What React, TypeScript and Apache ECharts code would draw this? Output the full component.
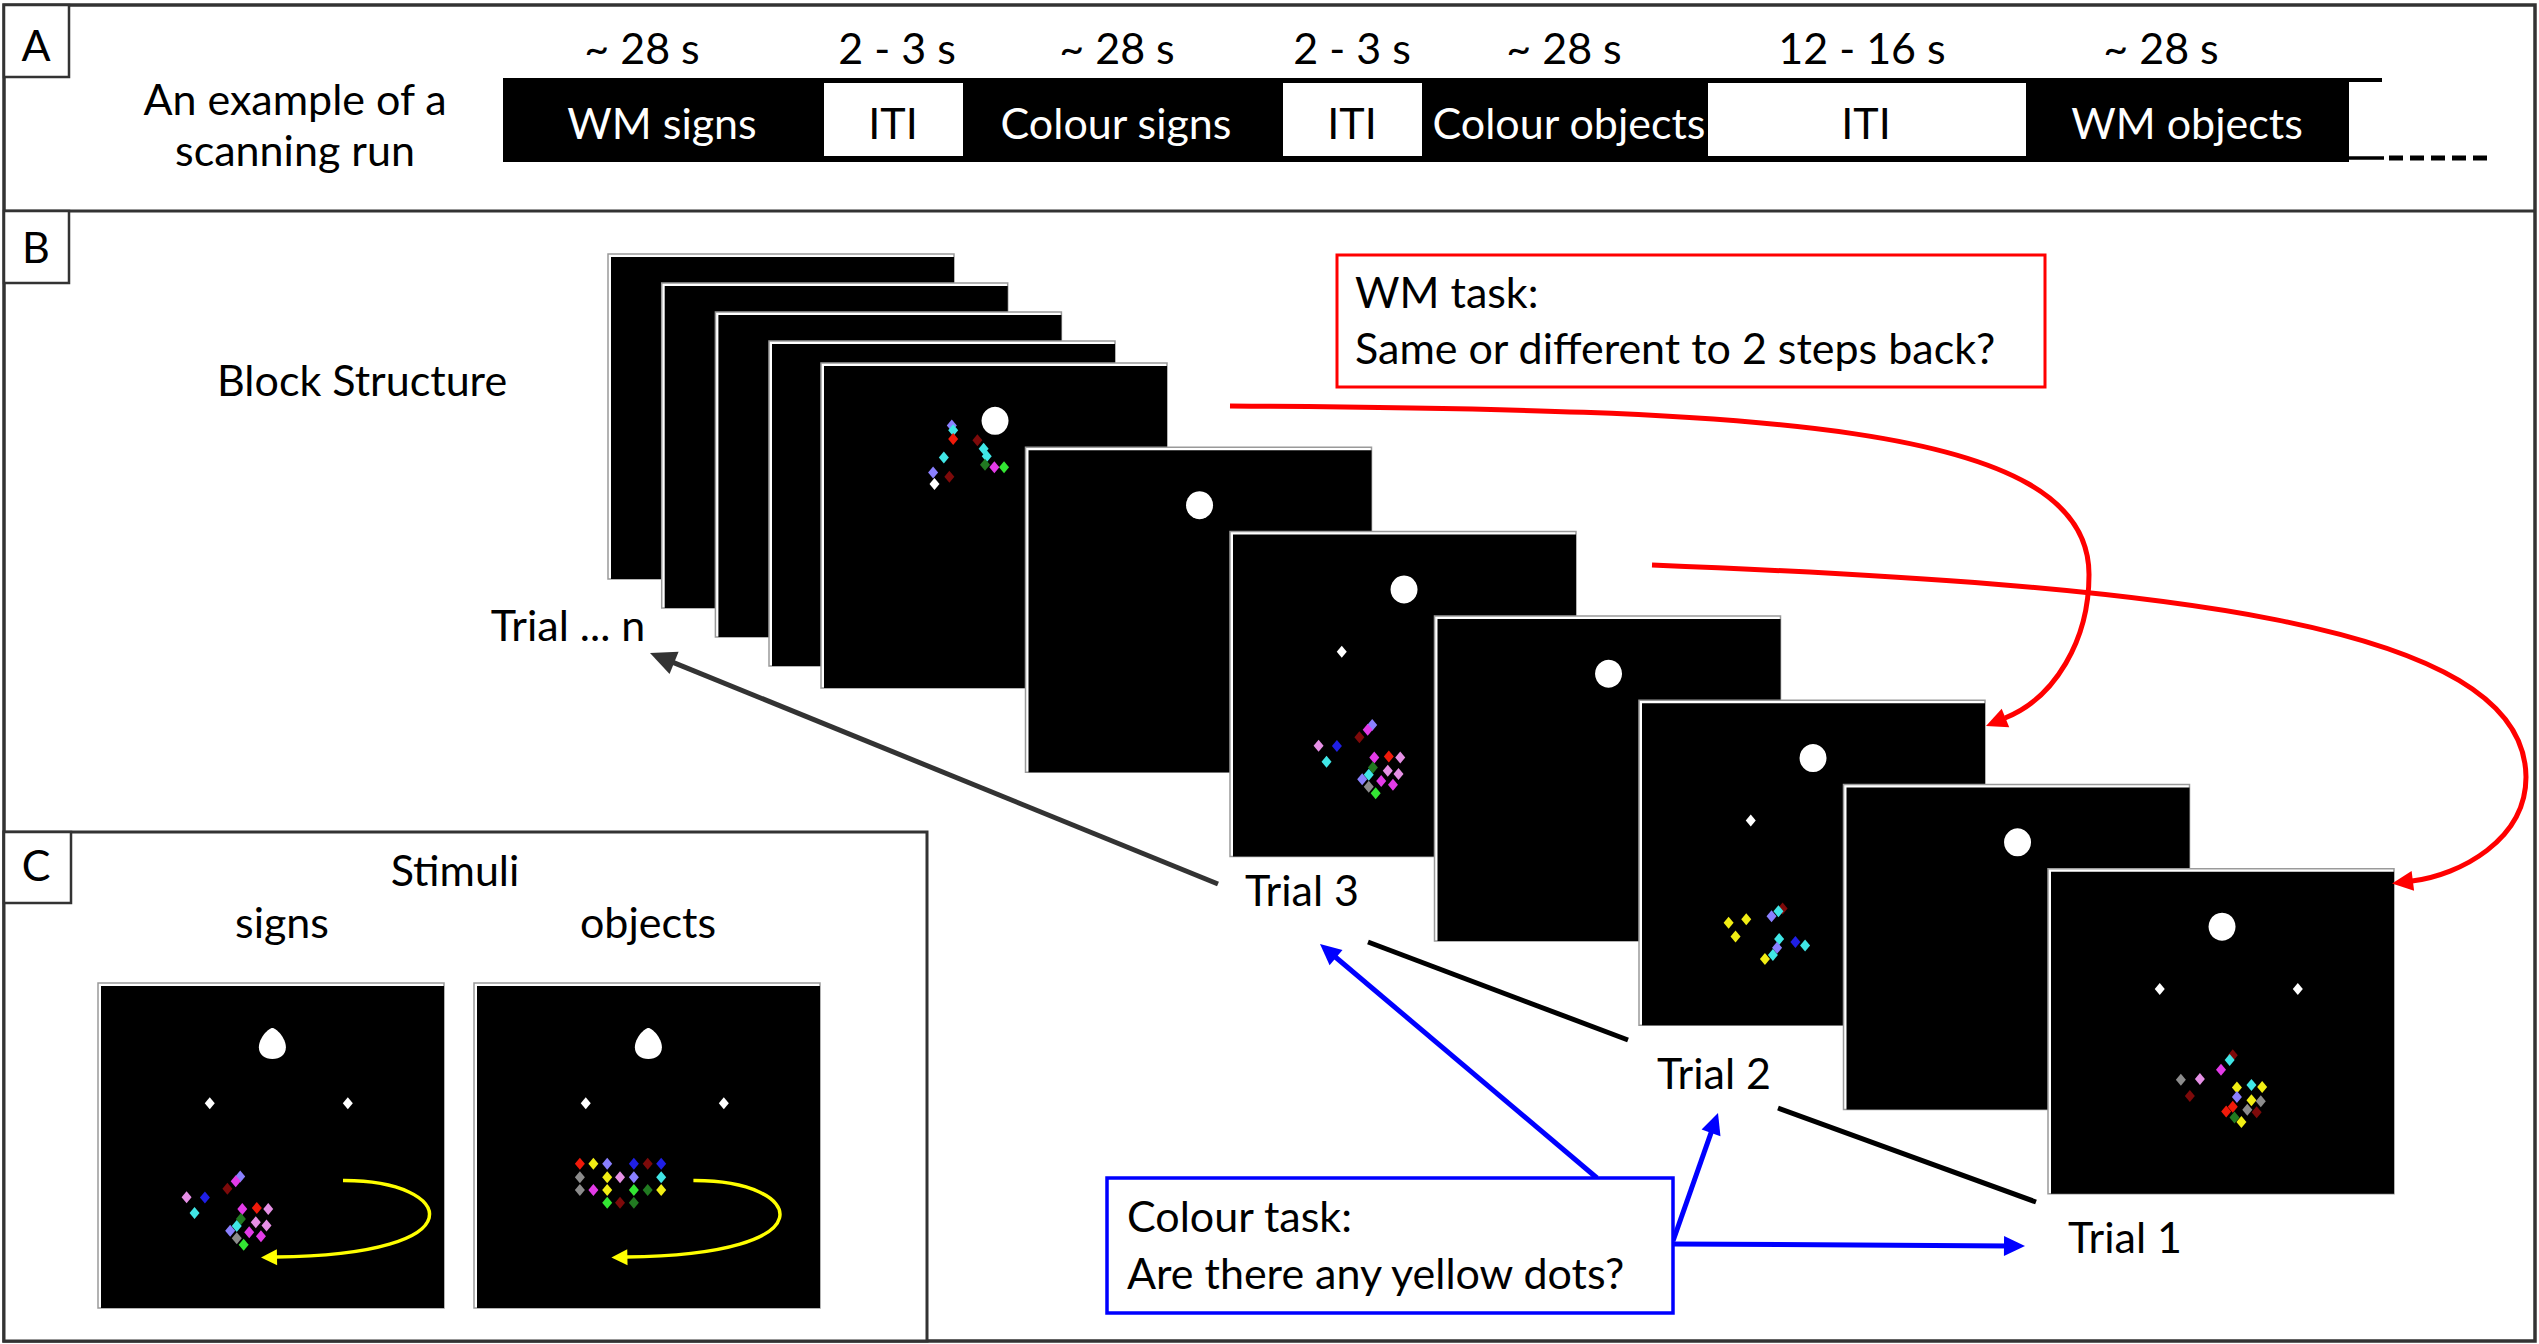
import React, { useEffect, useRef } from "react";
import * as echarts from "echarts";

const W = 2539;
const H = 1344;
const FONT = "Lato, 'Noto Sans', sans-serif";
const FS = 43;

const PALETTE: Record<string, string> = {
  lav: "#8a80ff",
  mag: "#e33be8",
  pink: "#e690e6",
  dred: "#7d0a0a",
  red: "#f01a0a",
  blue: "#1f1fe6",
  cyan: "#40e6e6",
  dgreen: "#217a21",
  green: "#33e633",
  grey: "#8c8c8c",
  yellow: "#f2ee14",
  white: "#ffffff",
};

// ---------- data ----------
const DURATIONS = ["~ 28 s", "2 - 3 s", "~ 28 s", "2 - 3 s", "~ 28 s", "12 - 16 s", "~ 28 s"];
const BLOCKS = ["WM signs", "ITI", "Colour signs", "ITI", "Colour objects", "ITI", "WM objects"];
const RUN_TITLE = ["An example of a", "scanning run"];
const TRIAL_LABELS = ["Trial ... n", "Trial 3", "Trial 2", "Trial 1"];
const WM_TASK = ["WM task:", "Same or different to 2 steps back?"];
const COLOUR_TASK = ["Colour task:", "Are there any yellow dots?"];
const STIM_TITLES = ["Stimuli", "signs", "objects"];

// normalised positions inside a screen [u, v, colour]
const FIX_CIRCLE: [number, number] = [0.503, 0.178];
const LEFT_DIAMOND: [number, number] = [0.323, 0.37];
const RIGHT_DIAMOND: [number, number] = [0.722, 0.37];

const DOTS_BLOCK_START: [number, number, string][] = [
  [0.378, 0.192, "lav"], [0.382, 0.207, "cyan"], [0.382, 0.234, "red"], [0.452, 0.238, "dred"],
  [0.47, 0.264, "cyan"], [0.479, 0.287, "cyan"], [0.355, 0.291, "cyan"], [0.474, 0.313, "dgreen"],
  [0.501, 0.321, "mag"], [0.529, 0.321, "green"], [0.324, 0.337, "lav"], [0.371, 0.35, "dred"],
  [0.328, 0.372, "white"],
];
const DOTS_SIGNS: [number, number, string][] = [
  [0.411, 0.595, "lav"], [0.398, 0.61, "mag"], [0.374, 0.633, "dred"], [0.256, 0.659, "pink"],
  [0.309, 0.66, "blue"], [0.279, 0.708, "cyan"], [0.417, 0.695, "mag"], [0.459, 0.692, "red"],
  [0.492, 0.695, "pink"], [0.413, 0.726, "dgreen"], [0.401, 0.748, "cyan"], [0.382, 0.762, "lav"],
  [0.456, 0.736, "pink"], [0.487, 0.746, "pink"], [0.437, 0.767, "mag"], [0.471, 0.779, "mag"],
  [0.401, 0.785, "grey"], [0.421, 0.805, "green"],
];
const DOTS_TRIAL2: [number, number, string][] = [
  [0.415, 0.641, "dred"], [0.403, 0.649, "cyan"], [0.383, 0.665, "lav"], [0.259, 0.685, "yellow"],
  [0.31, 0.674, "yellow"], [0.279, 0.727, "yellow"], [0.405, 0.735, "cyan"], [0.452, 0.744, "blue"],
  [0.48, 0.755, "cyan"], [0.399, 0.762, "lav"], [0.387, 0.784, "cyan"], [0.364, 0.796, "yellow"],
];
const DOTS_TRIAL1: [number, number, string][] = [
  [0.534, 0.574, "dred"], [0.525, 0.588, "cyan"], [0.5, 0.618, "mag"], [0.384, 0.649, "grey"],
  [0.439, 0.647, "pink"], [0.41, 0.699, "dred"], [0.546, 0.673, "yellow"], [0.588, 0.665, "cyan"],
  [0.619, 0.671, "yellow"], [0.546, 0.702, "lav"], [0.588, 0.712, "yellow"], [0.615, 0.715, "grey"],
  [0.534, 0.732, "red"], [0.515, 0.747, "red"], [0.576, 0.741, "grey"], [0.603, 0.749, "dred"],
  [0.539, 0.765, "dgreen"], [0.559, 0.779, "yellow"],
];
const DOTS_OBJECTS: [number, number, string][] = [
  [0.306, 0.556, "red"], [0.345, 0.556, "yellow"], [0.385, 0.556, "lav"], [0.462, 0.556, "blue"],
  [0.502, 0.556, "dred"], [0.541, 0.556, "blue"],
  [0.306, 0.598, "grey"], [0.385, 0.598, "yellow"], [0.422, 0.598, "pink"], [0.462, 0.598, "lav"],
  [0.541, 0.598, "cyan"],
  [0.306, 0.637, "grey"], [0.345, 0.637, "mag"], [0.385, 0.637, "yellow"], [0.462, 0.637, "green"],
  [0.502, 0.637, "dgreen"], [0.541, 0.637, "yellow"],
  [0.385, 0.676, "green"], [0.422, 0.676, "dred"], [0.462, 0.676, "dgreen"],
];

// ---------- layout ----------
const CARD_W = 346;
const CARD_H = 325;
const BACK_CARDS = [[608, 254], [661.7, 283], [715.4, 312], [769, 341]];
const FRONT_ORIGIN = [821, 363];
const FRONT_STEP = [204.5, 84.3];
const FRONT_KIND = ["blockStart", "blank", "trial3", "blank", "trial2", "blank", "trial1"];
const C_CARDS = [[98, 983], [474, 983]];

const DURATION_X = [642, 897, 1117, 1352, 1564, 1862, 2161];
const BLOCK_X = [662, 893, 1116, 1352, 1569, 1866, 2187];
const ITI_BOXES = [[824, 139], [1283, 139], [1708, 318]];

function txt(text: string, x: number, baseline: number, o: any = {}) {
  const size = o.size || FS;
  return {
    type: "text",
    x,
    y: baseline - 0.36 * size,
    silent: true,
    style: {
      text,
      x: 0,
      y: 0,
      font: `${size}px ${FONT}`,
      fill: o.fill || "#000",
      align: o.align || "center",
      verticalAlign: "middle",
      textAlign: o.align || "center",
      textVerticalAlign: "middle",
    },
  };
}

function line(x1: number, y1: number, x2: number, y2: number, stroke: string, lw: number, extra: any = {}) {
  return { type: "line", silent: true, shape: { x1, y1, x2, y2 }, style: { stroke, lineWidth: lw, ...extra } };
}

function head(tx: number, ty: number, fx: number, fy: number, len: number, half: number, color: string) {
  const dx = tx - fx, dy = ty - fy;
  const d = Math.hypot(dx, dy);
  const ux = dx / d, uy = dy / d;
  const bx = tx - ux * len, by = ty - uy * len;
  return {
    type: "polygon",
    silent: true,
    shape: { points: [[tx, ty], [bx - uy * half, by + ux * half], [bx + uy * half, by - ux * half]] },
    style: { fill: color },
  };
}

function arrow(x1: number, y1: number, x2: number, y2: number, color: string, lw: number, len: number, half: number) {
  const dx = x2 - x1, dy = y2 - y1;
  const d = Math.hypot(dx, dy);
  const ex = x2 - (dx / d) * len * 0.7, ey = y2 - (dy / d) * len * 0.7;
  return [line(x1, y1, ex, ey, color, lw), head(x2, y2, x1, y1, len, half, color)];
}

function bez(p: number[], color: string, lw: number) {
  return {
    type: "bezierCurve",
    silent: true,
    shape: { x1: p[0], y1: p[1], cpx1: p[2], cpy1: p[3], cpx2: p[4], cpy2: p[5], x2: p[6], y2: p[7] },
    style: { stroke: color, lineWidth: lw, fill: null },
  };
}

function cardRects(x: number, y: number) {
  return [
    { type: "rect", silent: true, shape: { x, y, width: CARD_W, height: CARD_H }, style: { fill: "#fff", stroke: "#9a9a9a", lineWidth: 1.5 } },
    { type: "rect", silent: true, shape: { x: x + 3, y: y + 3, width: CARD_W - 3, height: CARD_H - 3 }, style: { fill: "#000" } },
  ];
}

function buildOption() {
  const g: any[] = [];
  // outer frame and panel separators
  g.push({ type: "rect", silent: true, shape: { x: 4, y: 5, width: 2531, height: 1336 }, style: { fill: "#fff", stroke: "#333", lineWidth: 3.5 } });
  g.push(line(4, 211, 2535, 211, "#333", 3));
  // panel label boxes
  g.push({ type: "rect", silent: true, shape: { x: 4, y: 5, width: 65, height: 72 }, style: { fill: "#fff", stroke: "#333", lineWidth: 2.5 } });
  g.push(txt("A", 36, 60));
  g.push({ type: "rect", silent: true, shape: { x: 4, y: 211, width: 65, height: 72 }, style: { fill: "#fff", stroke: "#333", lineWidth: 2.5 } });
  g.push(txt("B", 36, 262));

  // Panel A
  g.push(txt(RUN_TITLE[0], 295, 114));
  g.push(txt(RUN_TITLE[1], 295, 165));
  g.push({ type: "rect", silent: true, shape: { x: 503, y: 78, width: 1846, height: 84 }, style: { fill: "#000" } });
  ITI_BOXES.forEach(([x, w]) => {
    g.push({ type: "rect", silent: true, shape: { x, y: 83, width: w, height: 73 }, style: { fill: "#fff" } });
  });
  g.push(line(2349, 80, 2382, 80, "#000", 4));
  g.push(line(2349, 158, 2384, 158, "#000", 3.5));
  g.push(line(2389, 158, 2489, 158, "#000", 5, { lineDash: [14, 7] }));
  DURATIONS.forEach((d, i) => g.push(txt(d, DURATION_X[i], 63)));
  BLOCKS.forEach((b, i) => g.push(txt(b, BLOCK_X[i], 138, { fill: b === "ITI" ? "#000" : "#fff" })));

  // Panel B
  g.push(txt("Block Structure", 217, 395, { align: "left" }));
  BACK_CARDS.forEach(([x, y]) => g.push(...cardRects(x, y)));
  FRONT_KIND.forEach((_, i) => g.push(...cardRects(FRONT_ORIGIN[0] + i * FRONT_STEP[0], FRONT_ORIGIN[1] + i * FRONT_STEP[1])));

  g.push(txt(TRIAL_LABELS[0], 568, 640));
  g.push(txt(TRIAL_LABELS[1], 1302, 905));
  g.push(txt(TRIAL_LABELS[2], 1714, 1088));
  g.push(txt(TRIAL_LABELS[3], 2125, 1252));

  g.push(...arrow(1218, 884, 650, 653, "#333", 5, 26, 12));
  g.push(line(1368, 942, 1628, 1040, "#000", 5));
  g.push(line(1778, 1108, 2036, 1202, "#000", 5));

  // WM task box + red curves
  g.push({ type: "rect", silent: true, shape: { x: 1337, y: 255, width: 708, height: 132 }, style: { fill: "#fff", stroke: "#ff0000", lineWidth: 3 } });
  g.push(txt(WM_TASK[0], 1355, 307, { align: "left" }));
  g.push(txt(WM_TASK[1], 1355, 363, { align: "left" }));
  const RED = "#ff0000";
  g.push(bez([1230, 406, 1750, 410, 2090, 420, 2089, 575], RED, 5));
  g.push(bez([2089, 575, 2089, 640, 2055, 698, 2005, 718], RED, 5));
  g.push(head(1986, 726, 2055, 698, 21, 10, RED));
  g.push(bez([1652, 565, 2150, 585, 2525, 620, 2526, 777], RED, 5));
  g.push(bez([2526, 777, 2526, 840, 2460, 875, 2412, 881], RED, 5));
  g.push(head(2392, 883.5, 2460, 875, 21, 10, RED));

  // Colour task box + blue arrows
  const BLUE = "#0000ff";
  g.push(...arrow(1597, 1178, 1320, 944, BLUE, 5, 21, 10));
  g.push(...arrow(1673, 1241, 1718, 1113, BLUE, 5, 21, 10));
  g.push(...arrow(1673, 1244, 2025, 1246, BLUE, 5, 21, 10));
  g.push({ type: "rect", silent: true, shape: { x: 1107, y: 1178, width: 566, height: 135 }, style: { fill: "#fff", stroke: BLUE, lineWidth: 3.5 } });
  g.push(txt(COLOUR_TASK[0], 1127, 1231, { align: "left" }));
  g.push(txt(COLOUR_TASK[1], 1127, 1288, { align: "left" }));

  // Panel C
  g.push({ type: "rect", silent: true, shape: { x: 4, y: 832, width: 923, height: 509 }, style: { fill: "#fff", stroke: "#333", lineWidth: 3 } });
  g.push({ type: "rect", silent: true, shape: { x: 4, y: 832, width: 67, height: 71 }, style: { fill: "#fff", stroke: "#333", lineWidth: 2.5 } });
  g.push(txt("C", 36, 880));
  g.push(txt(STIM_TITLES[0], 455, 885));
  g.push(txt(STIM_TITLES[1], 282, 937));
  g.push(txt(STIM_TITLES[2], 648, 937));
  C_CARDS.forEach(([x, y]) => g.push(...cardRects(x, y)));
  const YEL = "#ffff00";
  [0, -25.6].forEach((sh, i) => {
    const [cx, cy] = C_CARDS[i];
    const ox = cx + sh, oy = cy;
    g.push(bez([ox + 245, oy + 197.6, ox + 357, oy + 197, ox + 385, oy + 272, ox + 178, oy + 274], YEL, 3.5));
    g.push(head(ox + 163, oy + 274.5, ox + 190, oy + 274, 16, 8, YEL));
  });

  // screens with dots, via one hidden cartesian grid per screen
  const screens: { x: number; y: number; items: any[] }[] = [];
  const dot = (p: [number, number, string]) => ({ value: [p[0], p[1]], itemStyle: { color: PALETTE[p[2]], opacity: 1 } });
  const circle = { value: FIX_CIRCLE, symbol: "circle", symbolSize: [27, 28], itemStyle: { color: "#fff", opacity: 1 } };
  const drop = {
    value: [0.504, 0.186],
    symbol: "path://M50,0 C64,0 100,32 100,62 C100,86 78,100 50,100 C22,100 0,86 0,62 C0,32 36,0 50,0 Z",
    symbolSize: [27, 31],
    itemStyle: { color: "#fff", opacity: 1 },
  };
  const white = (p: [number, number]) => ({ value: p, itemStyle: { color: "#fff", opacity: 1 } });
  FRONT_KIND.forEach((k, i) => {
    const x = FRONT_ORIGIN[0] + i * FRONT_STEP[0];
    const y = FRONT_ORIGIN[1] + i * FRONT_STEP[1];
    let items: any[] = [circle];
    if (k === "blockStart") items = [circle, ...DOTS_BLOCK_START.map(dot)];
    if (k === "trial3") items = [circle, white(LEFT_DIAMOND), ...DOTS_SIGNS.map(dot)];
    if (k === "trial2") items = [circle, white(LEFT_DIAMOND), ...DOTS_TRIAL2.map(dot)];
    if (k === "trial1") items = [circle, white(LEFT_DIAMOND), white(RIGHT_DIAMOND), ...DOTS_TRIAL1.map(dot)];
    screens.push({ x, y, items });
  });
  screens.push({ x: C_CARDS[0][0], y: C_CARDS[0][1], items: [drop, white(LEFT_DIAMOND), white(RIGHT_DIAMOND), ...DOTS_SIGNS.map(dot)] });
  screens.push({ x: C_CARDS[1][0], y: C_CARDS[1][1], items: [drop, white(LEFT_DIAMOND), white(RIGHT_DIAMOND), ...DOTS_OBJECTS.map(dot)] });

  return {
    animation: false,
    backgroundColor: "#fff",
    grid: screens.map((s) => ({ left: s.x, top: s.y, width: CARD_W, height: CARD_H, show: false })),
    xAxis: screens.map((_, i) => ({ gridIndex: i, type: "value", min: 0, max: 1, show: false })),
    yAxis: screens.map((_, i) => ({ gridIndex: i, type: "value", min: 0, max: 1, inverse: true, show: false })),
    series: screens.map((s, i) => ({
      type: "scatter",
      xAxisIndex: i,
      yAxisIndex: i,
      silent: true,
      symbol: "diamond",
      symbolSize: [10, 12],
      itemStyle: { opacity: 1 },
      z: 5,
      data: s.items,
    })),
    graphic: { elements: g },
  };
}

export default function App() {
  const ref = useRef<HTMLDivElement>(null);
  useEffect(() => {
    document.body.style.margin = "0";
    if (!ref.current) return;
    const chart = echarts.init(ref.current, null, { renderer: "svg", width: W, height: H });
    chart.setOption(buildOption() as any);
    return () => chart.dispose();
  }, []);
  return <div ref={ref} style={{ width: W, height: H }} />;
}
